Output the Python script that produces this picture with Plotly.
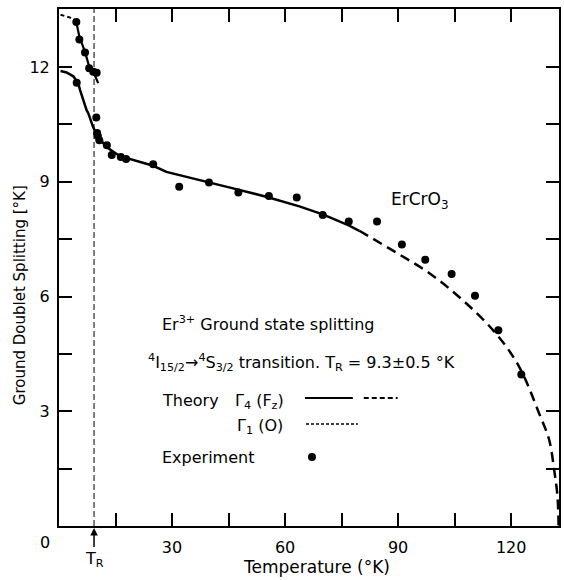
import plotly.graph_objects as go

# ---------------- data ----------------
exp_T = [4.6, 5.4, 6.9, 8.0, 9.1, 10.0, 4.7, 9.9, 10.1, 10.3, 10.7, 12.7, 14.0, 16.4, 17.8,
         25.0, 31.9, 39.8, 47.6, 55.7, 63.1, 70.0, 76.9, 84.4, 91.0, 97.2, 104.2, 110.4,
         116.6, 122.7]
exp_S = [13.18, 12.72, 12.38, 11.97, 11.88, 11.85, 11.59, 10.68, 10.28, 10.20, 10.09, 9.96,
         9.70, 9.65, 9.60, 9.46, 8.87, 8.98, 8.72, 8.63, 8.59, 8.13, 7.96, 7.96, 7.36, 6.96,
         6.59, 6.02, 5.12, 3.96]

g4_solid_T = [0.4, 2.0, 3.8, 5.1, 5.6, 6.4, 7.3, 7.8, 9.1, 10.4, 12.6, 16.2, 21.5, 25.0,
              28.5, 37.4, 46.2, 55.0, 63.8, 70.0, 76.9, 79.7]
g4_solid_S = [11.90, 11.86, 11.76, 11.58, 11.40, 11.14, 10.88, 10.79, 10.42, 10.17, 9.91,
              9.67, 9.52, 9.42, 9.26, 9.05, 8.83, 8.61, 8.36, 8.15, 7.86, 7.72]

g4_dash_T = [79.7, 89.5, 98.3, 107.1, 115.9, 122.1, 127.4, 130.1, 131.4, 132.3, 132.6]
g4_dash_S = [7.72, 7.15, 6.61, 5.91, 5.04, 4.17, 2.95, 2.25, 1.48, 0.77, 0.0]

g1_dash_T = [0.4, 2.0, 3.8, 4.6]
g1_dash_S = [13.37, 13.33, 13.27, 13.17]
g1_solid_T = [4.6, 5.4, 6.9, 8.0, 9.0, 10.4]
g1_solid_S = [13.17, 12.80, 12.40, 12.02, 11.90, 11.58]

T_R = 9.3

x_tickvals = [30, 60, 90, 120]
x_ticktext = ["30", "60", "90", "120"]
x_minor_vals = [15, 45, 75, 105]
y_tickvals = [3, 6, 9, 12]
y_ticktext = ["3", "6", "9", "12"]
y_minor_vals = [1.5, 4.5, 7.5, 10.5]

X_RANGE = [0, 132.7]
Y_RANGE = [0, 13.52]

# ---------------- layout helpers ----------------
W, H = 564, 580
L, R, T, B = 59, 561, 9, 526
FONT = "DejaVu Sans"


def px(x):
    return (x - L) / (R - L)


def py(y):
    return (B - y) / (B - T)


fig = go.Figure()

fig.add_trace(go.Scatter(x=g4_solid_T, y=g4_solid_S, mode="lines",
                         line=dict(color="black", width=2.5), showlegend=False))
fig.add_trace(go.Scatter(x=g4_dash_T, y=g4_dash_S, mode="lines",
                         line=dict(color="black", width=2.5, dash="10px,6px", shape="spline"),
                         showlegend=False))
fig.add_trace(go.Scatter(x=g1_dash_T, y=g1_dash_S, mode="lines",
                         line=dict(color="black", width=2, dash="4px,3px"), showlegend=False))
fig.add_trace(go.Scatter(x=g1_solid_T, y=g1_solid_S, mode="lines",
                         line=dict(color="black", width=2.2), showlegend=False))
fig.add_trace(go.Scatter(x=exp_T, y=exp_S, mode="markers",
                         marker=dict(color="black", size=8), showlegend=False))

# T_R vertical line
fig.add_shape(type="line", xref="x", yref="y", x0=T_R, x1=T_R, y0=Y_RANGE[0], y1=Y_RANGE[1],
              line=dict(color="black", width=1, dash="6px,3px"))

# legend samples
fig.add_shape(type="line", xref="paper", yref="paper", x0=px(306), x1=px(354), y0=py(398), y1=py(398),
              line=dict(color="black", width=2))
fig.add_shape(type="line", xref="paper", yref="paper", x0=px(365), x1=px(399), y0=py(398), y1=py(398),
              line=dict(color="black", width=2, dash="5px,3px"))
fig.add_shape(type="line", xref="paper", yref="paper", x0=px(307), x1=px(359), y0=py(424), y1=py(424),
              line=dict(color="black", width=1.5, dash="3px,2px"))
fig.add_shape(type="circle", xref="paper", yref="paper", x0=px(309), x1=px(317), y0=py(461), y1=py(453),
              line=dict(color="black", width=0), fillcolor="black")


def txt(x, y, s, size=16, xanchor="left", angle=0):
    fig.add_annotation(xref="paper", yref="paper", x=px(x), y=py(y), text=s, showarrow=False,
                       xanchor=xanchor, yanchor="middle", textangle=angle,
                       font=dict(family=FONT, size=size, color="black"))


txt(390, 200, "ErCrO<sub>3</sub>", 17)
txt(160, 324, "Er<sup>3+</sup> Ground state splitting")
txt(146, 362, "<sup>4</sup>I<sub>15/2</sub>\u2192<sup>4</sup>S<sub>3/2</sub> transition. T<sub>R</sub> = 9.3\u00b10.5 \u00b0K")
txt(160, 400, "Theory")
txt(234, 401, "\u0393<sub>4</sub> (F<sub>z</sub>)")
txt(236, 426, "\u0393<sub>1</sub> (O)")
txt(160, 457, "Experiment")

# origin "0" label
txt(45, 542, "0", 16, xanchor="center")

# T_R arrow below axis
fig.add_annotation(xref="x", yref="paper", x=T_R, y=py(528), ax=0, ay=31,
                   text="T<sub>R</sub>", showarrow=True, arrowhead=2, arrowsize=1,
                   arrowwidth=1.5, arrowcolor="black", standoff=0,
                   font=dict(family=FONT, size=16, color="black"))

# axis titles
txt(20, 295, "Ground Doublet Splitting [\u00b0K]", 15, xanchor="center", angle=-90)
txt(318, 567, "Temperature (\u00b0K)", 17, xanchor="center")

axis_common = dict(showline=True, linecolor="black", linewidth=2, mirror="ticks",
                   ticks="inside", ticklen=13, tickwidth=2, tickcolor="black",
                   showgrid=False, zeroline=False,
                   tickfont=dict(family=FONT, size=16, color="black"))
minor_common = dict(ticks="inside", ticklen=13, tickwidth=2, tickcolor="black", showgrid=False)

fig.update_xaxes(range=X_RANGE, tickmode="array", tickvals=x_tickvals, ticktext=x_ticktext,
                 minor=dict(tickvals=x_minor_vals, **minor_common),
                 ticklabelstandoff=6, **axis_common)
fig.update_yaxes(range=Y_RANGE, tickmode="array", tickvals=y_tickvals, ticktext=y_ticktext,
                 minor=dict(tickvals=y_minor_vals, **minor_common),
                 ticklabelstandoff=4, **axis_common)

fig.update_layout(width=W, height=H, margin=dict(l=L, r=W - R, t=T, b=H - B),
                  plot_bgcolor="white", paper_bgcolor="white", showlegend=False,
                  font=dict(family=FONT, color="black"))

fig.write_html("out.html")
